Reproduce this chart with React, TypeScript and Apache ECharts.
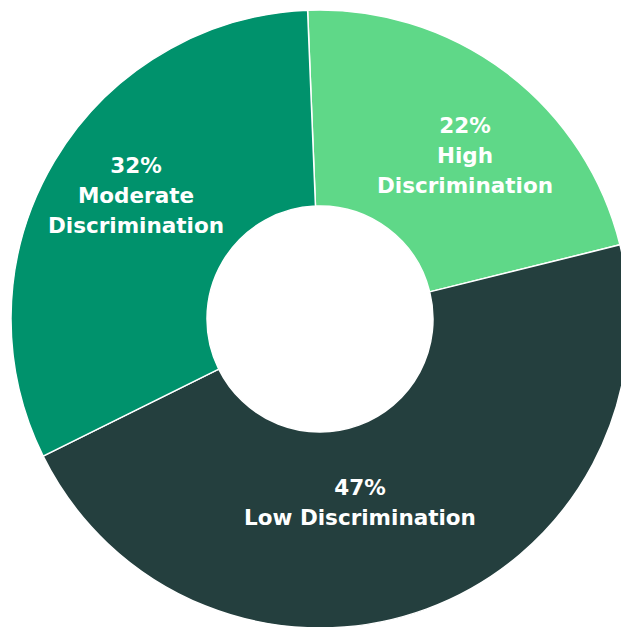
import React, { useEffect, useRef } from "react";
import * as echarts from "echarts";

const categories = ["High Discrimination", "Low Discrimination", "Moderate Discrimination"];
const labelTexts = ["High\nDiscrimination", "Low Discrimination", "Moderate\nDiscrimination"];
const values = [22, 47, 32];
const colors = ["#5fd888", "#243f3e", "#00926c"];
const labelCenters = [
  [465, 155],
  [360, 502],
  [136, 195],
];

export default function App() {
  const ref = useRef<HTMLDivElement>(null);
  useEffect(() => {
    if (!ref.current) return;
    const chart = echarts.init(ref.current, undefined, { renderer: "svg" });
    chart.setOption({
      animation: false,
      backgroundColor: "#ffffff",
      series: [
        {
          type: "pie",
          center: [320, 319],
          radius: [113, 309],
          startAngle: 92.3,
          clockwise: true,
          avoidLabelOverlap: false,
          itemStyle: { borderColor: "#ffffff", borderWidth: 1.5 },
          label: {
            show: true,
            position: "inside",
            color: "#ffffff",
            fontFamily: "DejaVu Sans",
            fontWeight: "bold",
            fontSize: 21.5,
            lineHeight: 30,
            align: "center",
            formatter: (p: any) => `${p.value}%\n${labelTexts[p.dataIndex]}`,
          },
          labelLine: { show: false },
          labelLayout: (p: any) => ({
            x: labelCenters[p.dataIndex][0],
            y: labelCenters[p.dataIndex][1],
            align: "center",
            verticalAlign: "middle",
          }),
          data: categories.map((name, i) => ({
            name,
            value: values[i],
            itemStyle: { color: colors[i] },
          })),
        },
      ],
    });
    return () => chart.dispose();
  }, []);
  return (
    <div
      ref={ref}
      style={{ position: "absolute", left: 0, top: 0, width: 621, height: 627 }}
    />
  );
}
